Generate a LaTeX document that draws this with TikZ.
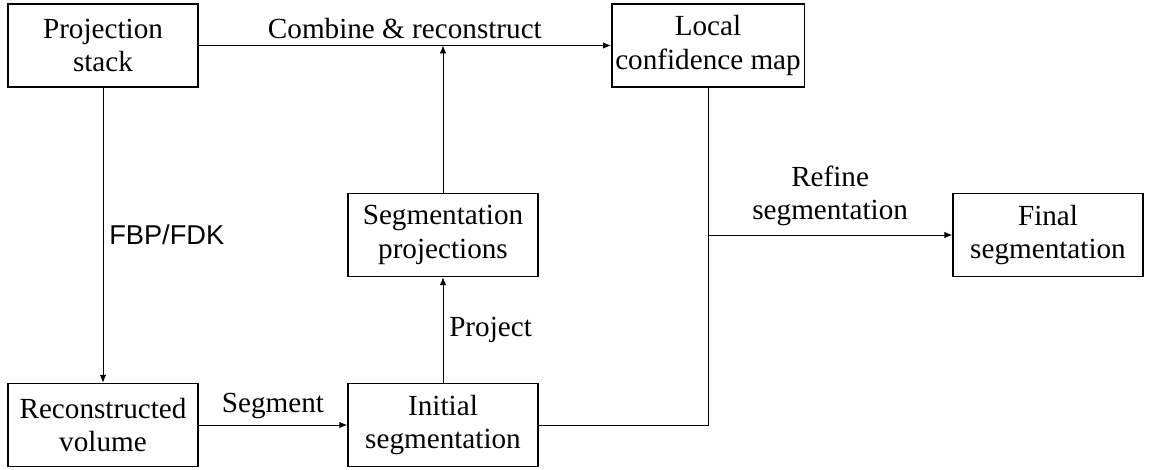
\documentclass[tikz,border=0pt]{standalone}
\usepackage{fontspec}
\setmainfont{Liberation Serif}
\setsansfont{Liberation Sans}
\usetikzlibrary{arrows.meta}

\begin{document}
\begin{tikzpicture}[
  font=\fontsize{16.6pt}{19pt}\selectfont,
  block/.style={draw, line width=0.85pt, align=center, minimum width=3.8cm, minimum height=1.66cm, inner sep=2pt},
  flow/.style={line width=0.45pt, -{Latex[length=4.5pt,width=3.6pt]}},
  plain/.style={line width=0.45pt}
]
\useasboundingbox (0, 0) rectangle (22.98, 9.38);

\node[block] (stack) at (2.06, 8.47) {Projection\\stack};
\node[block] (confmap) at (14.16, 8.47) {Local\\confidence map};
\node[block] (segproj) at (8.86, 4.68) {Segmentation\\projections};
\node[block] (finalseg) at (20.96, 4.68) {Final\\segmentation};
\node[block] (recvol) at (2.06, 0.88) {Reconstructed\\volume};
\node[block] (initseg) at (8.86, 0.88) {Initial\\segmentation};

\draw[flow] (stack) -- node[above] {Combine \& reconstruct} (confmap);
\draw[flow] (stack) -- node[right, font=\sffamily\fontsize{15.5pt}{18pt}\selectfont] {FBP/FDK} (recvol);
\draw[flow] (recvol) -- node[above] {Segment} (initseg);
\draw[flow] (initseg) -- node[right] {Project} (segproj);
\draw[flow] (segproj) -- (segproj |- stack);

\coordinate (split) at (confmap |- finalseg);
\draw[plain] (initseg) -| (confmap);
\draw[flow] (split) -- node[above, align=center, yshift=1.5pt] {Refine\\segmentation} (finalseg);
\end{tikzpicture}
\end{document}
